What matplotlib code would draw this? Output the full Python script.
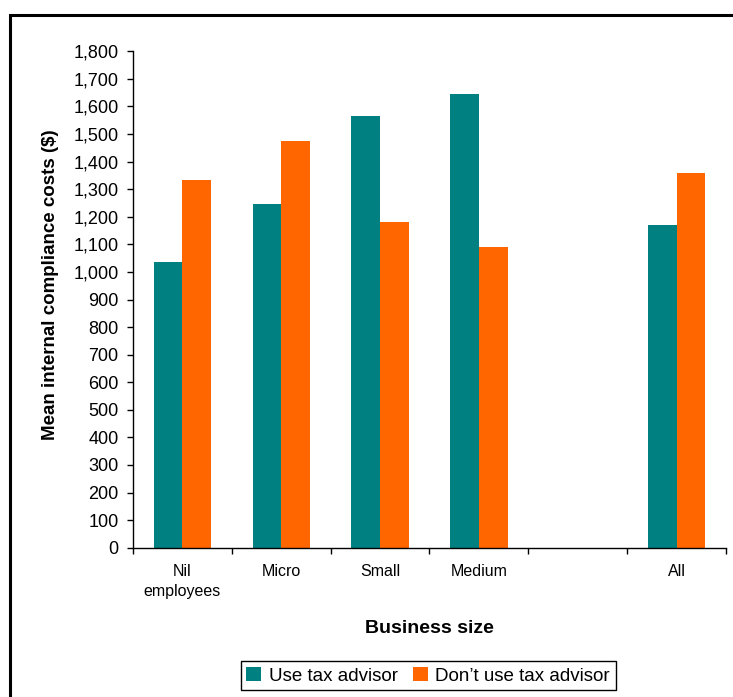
import matplotlib.pyplot as plt
from matplotlib.patches import Rectangle
from matplotlib.ticker import FuncFormatter

plt.rcParams['font.family'] = ['Liberation Sans', 'DejaVu Sans']

# Mean internal compliance costs by business size
categories = ["Nil\nemployees", "Micro", "Small", "Medium", "", "All"]
use_advisor = [1035, 1245, 1565, 1645, None, 1170]
no_advisor = [1335, 1475, 1180, 1090, None, 1360]

teal = "#008080"
orange = "#FF6600"

fig = plt.figure(figsize=(7.33, 6.97), dpi=100)
ax = fig.add_axes([0.1814, 0.2142, 0.809, 0.7122])

# outer chart frame (right and bottom edges fall outside the picture)
fig.patches.append(Rectangle((10 / 733, -0.1), 1.2, 1 - 15 / 697 + 0.1,
                             transform=fig.transFigure, fill=False,
                             edgecolor="black", linewidth=2.2))

w = 0.29
xs = list(range(len(categories)))
for i in xs:
    if use_advisor[i] is not None:
        ax.bar(i - w / 2, use_advisor[i], width=w, color=teal,
               label="Use tax advisor" if i == 0 else None)
        ax.bar(i + w / 2, no_advisor[i], width=w, color=orange,
               label="Don\u2019t use tax advisor" if i == 0 else None)

ax.set_xlim(-0.5, len(categories) - 0.5)
ax.set_ylim(0, 1800)
ax.set_yticks(range(0, 1801, 100))
ax.yaxis.set_major_formatter(FuncFormatter(lambda v, p: f"{int(v):,}"))

ax.set_xticks([i - 0.5 for i in range(len(categories) + 1)])
ax.set_xticklabels([])
ax.set_xticks(xs, minor=True)
ax.set_xticklabels(categories, minor=True, fontsize=11.5, linespacing=1.35)
ax.tick_params(axis="x", which="major", direction="out", length=4, width=1)
ax.tick_params(axis="x", which="minor", length=0, pad=12)
ax.tick_params(axis="y", direction="out", length=4, width=1, labelsize=13, pad=6.5)

for s in ["top", "right"]:
    ax.spines[s].set_visible(False)
ax.spines["left"].set_linewidth(1)
ax.spines["bottom"].set_linewidth(1)

ax.set_ylabel("Mean internal compliance costs ($)", fontsize=13.5, fontweight="bold")
ax.yaxis.set_label_coords(-0.1255, 0.53)
ax.set_xlabel("Business size", fontsize=14, fontweight="bold")
ax.xaxis.set_label_coords(0.5, -0.145)

leg = fig.legend(loc="center", bbox_to_anchor=(428.3 / 733, 1 - 675.9 / 697), ncol=2,
                 fontsize=13.5, frameon=True, fancybox=False, edgecolor="black",
                 framealpha=1, handlelength=0.8, handleheight=0.8,
                 handletextpad=0.4, columnspacing=0.8, borderpad=0.3,
                 borderaxespad=0)
leg.get_frame().set_linewidth(1)

fig.savefig("out.png", dpi=100)
